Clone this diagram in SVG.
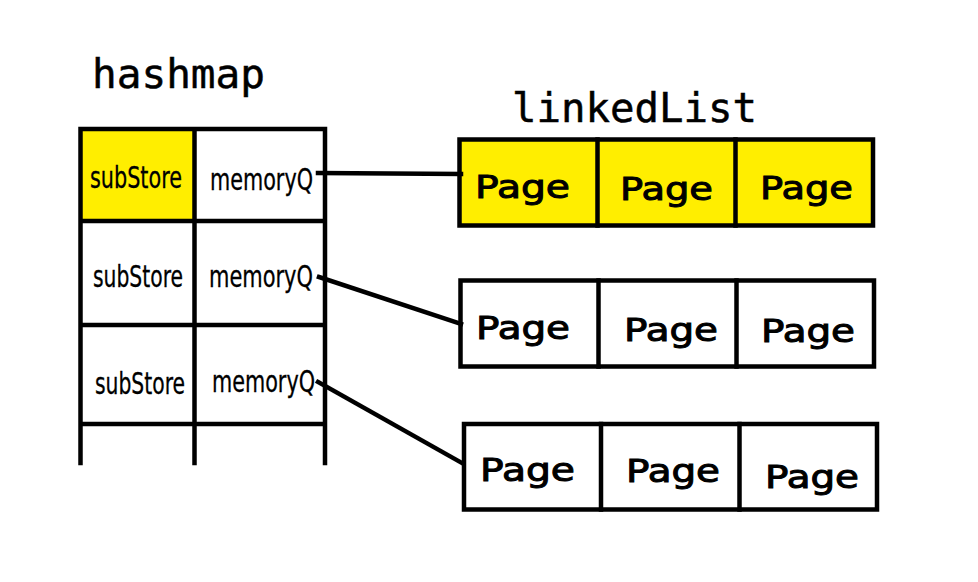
<svg xmlns="http://www.w3.org/2000/svg" width="978" height="582" viewBox="0 0 978 582">
<style>
.ln{stroke:#000;stroke-width:4.5;fill:none;stroke-linecap:square}
.box{stroke:#000;stroke-width:4.5}
.title{font-family:"DejaVu Sans Mono","Liberation Mono",monospace;font-size:41px;fill:#000;stroke:#000;stroke-width:0.5}
.cell{font-family:"DejaVu Sans Condensed","DejaVu Sans",sans-serif;font-size:31px;fill:#000;stroke:#000;stroke-width:0.3}
.page{font-family:"DejaVu Sans","Liberation Sans",sans-serif;font-size:32px;fill:#000;stroke:#000;stroke-width:1}
</style>
<rect width="978" height="582" fill="#fff"/>
<text class="title" x="92" y="88" textLength="173" lengthAdjust="spacingAndGlyphs">hashmap</text>
<text class="title" x="512" y="122" textLength="245" lengthAdjust="spacingAndGlyphs">linkedList</text>
<g id="hashmap">
<rect x="81" y="129" width="113" height="92" fill="#ffee00"/>
<path class="ln" d="M80.5 463V129H325V463M194.5 129V463M80.5 221H325M80.5 325H325M80.5 424H325"/>
<text class="cell" x="90" y="188" textLength="92" lengthAdjust="spacingAndGlyphs">subStore</text>
<text class="cell" x="210" y="190" textLength="103" lengthAdjust="spacingAndGlyphs">memoryQ</text>
<text class="cell" x="93" y="287" textLength="90" lengthAdjust="spacingAndGlyphs">subStore</text>
<text class="cell" x="209" y="287" textLength="104" lengthAdjust="spacingAndGlyphs">memoryQ</text>
<text class="cell" x="95" y="394" textLength="90" lengthAdjust="spacingAndGlyphs">subStore</text>
<text class="cell" x="212" y="392" textLength="103" lengthAdjust="spacingAndGlyphs">memoryQ</text>
</g>
<g id="list1">
<rect class="box" x="459.5" y="139.5" width="413.5" height="86" fill="#ffee00"/>
<path class="ln" d="M597.5 139.5V225.5M735.5 139.5V225.5"/>
<text class="page" x="475" y="198" textLength="95" lengthAdjust="spacingAndGlyphs">Page</text>
<text class="page" x="620" y="200" textLength="93" lengthAdjust="spacingAndGlyphs">Page</text>
<text class="page" x="760" y="199" textLength="93" lengthAdjust="spacingAndGlyphs">Page</text>
</g>
<g id="list2">
<rect class="box" x="460.5" y="280.5" width="413.5" height="86" fill="#fff"/>
<path class="ln" d="M598.5 280.5V366.5M736.5 280.5V366.5"/>
<text class="page" x="476" y="339" textLength="94" lengthAdjust="spacingAndGlyphs">Page</text>
<text class="page" x="624" y="341" textLength="94" lengthAdjust="spacingAndGlyphs">Page</text>
<text class="page" x="761" y="342" textLength="94" lengthAdjust="spacingAndGlyphs">Page</text>
</g>
<g id="list3">
<rect class="box" x="464" y="424" width="413" height="85.5" fill="#fff"/>
<path class="ln" d="M601 424V509.5M739.5 424V509.5"/>
<text class="page" x="480" y="481" textLength="95" lengthAdjust="spacingAndGlyphs">Page</text>
<text class="page" x="626" y="482" textLength="94" lengthAdjust="spacingAndGlyphs">Page</text>
<text class="page" x="765" y="488" textLength="94" lengthAdjust="spacingAndGlyphs">Page</text>
</g>
<g id="connectors">
<path class="ln" d="M318 173L461 174"/>
<path class="ln" d="M319 277L461 324"/>
<path class="ln" d="M318 382L462 463"/>
</g>
</svg>
